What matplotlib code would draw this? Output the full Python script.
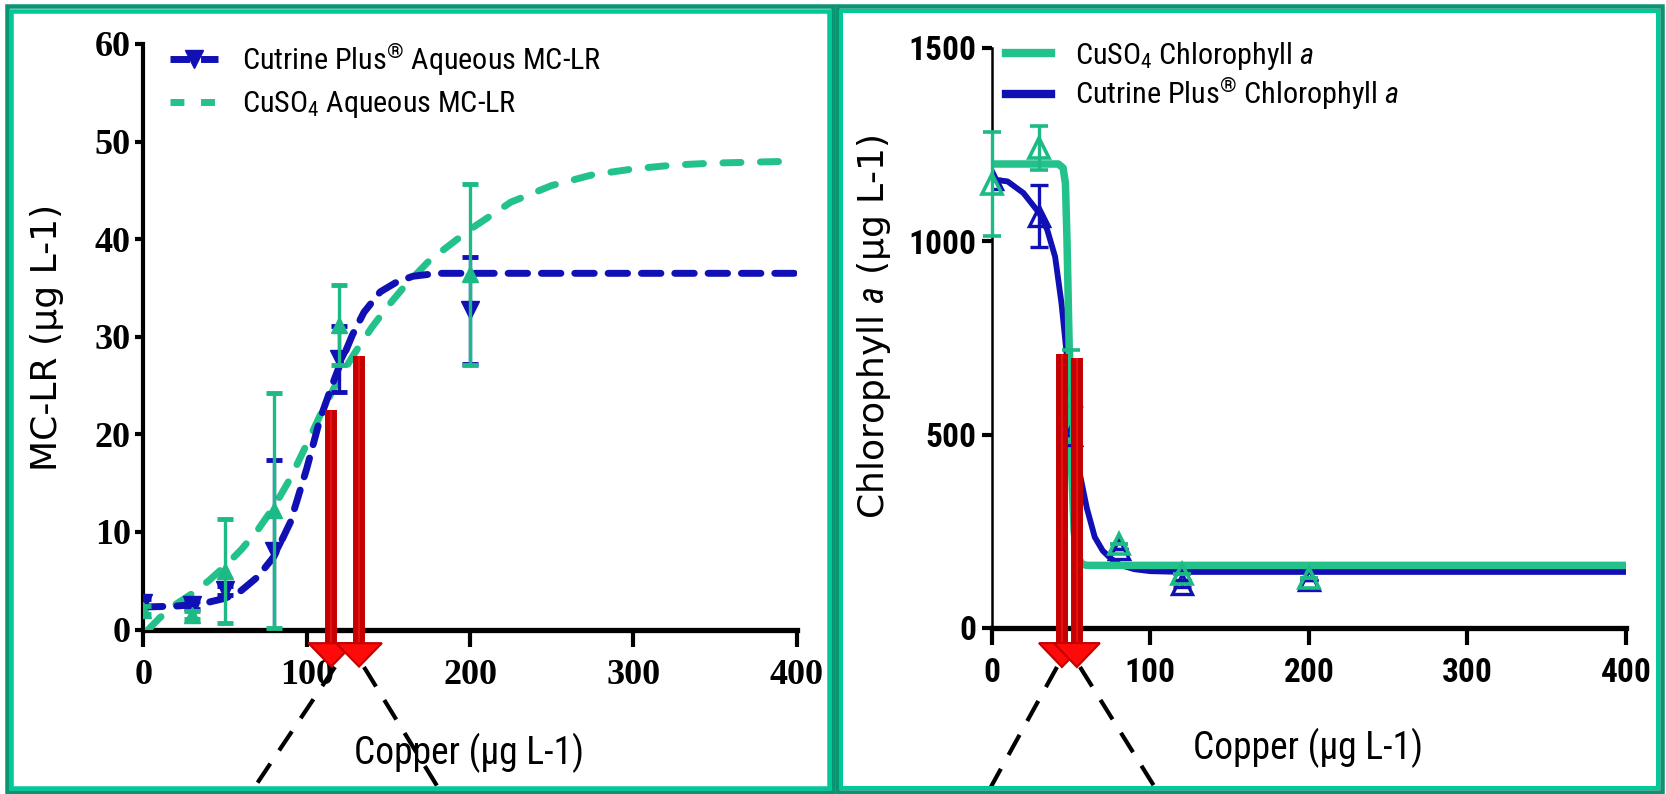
import matplotlib
matplotlib.use('Agg')
import matplotlib.pyplot as plt
from matplotlib.lines import Line2D
from matplotlib.patches import Rectangle
from matplotlib import font_manager as fm


def have(name):
    try:
        fm.findfont(fm.FontProperties(family=name), fallback_to_default=False)
        return True
    except Exception:
        return False


NARROW, NSCALE = 'DejaVu Sans', 0.80
for cand, scale in [('Liberation Sans Narrow', 1.0), ('DejaVu Sans Condensed', 0.92),
                    ('Roboto Condensed', 1.0), ('Open Sans Condensed', 1.0),
                    ('Noto Sans Condensed', 1.0), ('Roboto', 0.88), ('Lato', 0.88)]:
    if have(cand):
        NARROW, NSCALE = cand, scale
        break
SERIF = 'Liberation Serif' if have('Liberation Serif') else 'DejaVu Serif'
plt.rcParams['mathtext.fontset'] = 'custom'
plt.rcParams['mathtext.rm'] = NARROW
plt.rcParams['mathtext.it'] = NARROW + ':italic'
plt.rcParams['mathtext.bf'] = NARROW + ':bold'

# ---------------- data ----------------
copper_doses = [0, 30, 50, 80, 120, 200]

# Left panel: aqueous MC-LR (ug/L)
cutrine_mclr = [2.7, 2.5, 4.0, 8.0, 27.7, 32.7]
cutrine_mclr_err = [0.4, 0.4, 0.5, 9.4, 3.4, 5.5]
cuso4_mclr = [2.0, 1.5, 6.0, 12.2, 31.2, 36.4]
cuso4_mclr_err = [0.4, 0.4, 5.3, 12.0, 4.1, 9.3]

cutrine_mclr_fit_x = [0, 20, 35, 50, 60, 70, 80, 90, 100, 108, 115, 120, 128, 135, 145, 155, 165, 180, 200, 400]
cutrine_mclr_fit_y = [2.3, 2.4, 2.6, 3.2, 4.0, 5.4, 7.5, 11.0, 16.5, 21.5, 24.8, 27.0, 30.2, 32.5, 34.6, 35.6, 36.2, 36.5, 36.5, 36.5]
cuso4_mclr_fit_x = [3, 10, 20, 30, 40, 50, 60, 70, 80, 90, 100, 110, 120, 130, 140, 150, 160, 175, 200, 225, 250, 275, 300, 325, 350, 400]
cuso4_mclr_fit_y = [0.0, 1.2, 2.6, 3.7, 5.0, 6.5, 8.2, 10.2, 12.6, 15.5, 19.0, 22.6, 25.8, 28.5, 31.0, 33.2, 35.2, 37.8, 41.0, 43.8, 45.5, 46.6, 47.2, 47.6, 47.8, 48.0]

# Right panel: chlorophyll a (ug/L)
cuso4_chla = [1148, 1241, 600, 217, 140, 130]
cuso4_chla_err = [135, 57, 120, 0, 0, 0]
cutrine_chla = [1160, 1065, 500, 205, 115, 125]
cutrine_chla_err = [0, 80, 0, 0, 10, 0]

cuso4_chla_fit_x = [0, 42, 45, 46.5, 47.5, 48.5, 49.5, 50.5, 52, 54, 57, 60, 400]
cuso4_chla_fit_y = [1200, 1200, 1190, 1150, 1000, 800, 600, 400, 250, 185, 165, 162, 162]
cutrine_chla_fit_x = [0, 10, 20, 30, 35, 40, 44, 47, 50, 53, 57, 60, 65, 70, 75, 81, 90, 100, 120, 400]
cutrine_chla_fit_y = [1160, 1155, 1125, 1073, 1030, 960, 840, 720, 560, 450, 370, 310, 235, 200, 180, 163, 152, 147, 145, 145]

# EC50 marker arrows (x position, top value)
mclr_arrow_x = [115, 132]
mclr_arrow_top = [22.5, 28.0]
chla_arrow_x = [44.3, 53.7]
chla_arrow_top = [709, 698]

x_ticks = [0, 100, 200, 300, 400]
mclr_ticks = [0, 10, 20, 30, 40, 50, 60]
chla_ticks = [0, 500, 1000, 1500]

# ---------------- style ----------------
BLUE = '#1010B4'
GREEN = '#1CBA84'
GREEN_LINE = '#22C28A'
RED_DARK = '#C40000'
RED = '#FF0A0A'
W, H = 1666, 794

fig = plt.figure(figsize=(W / 100, H / 100), dpi=100)
fig.patch.set_facecolor('white')


def fx(px):
    return px / W


def fy(py):
    return 1 - py / H


def axes_px(x0, x1, ytop, ybot):
    return fig.add_axes([fx(x0), fy(ybot), fx(x1) - fx(x0), (ybot - ytop) / H])


ax1 = axes_px(143.4, 796.8, 44.0, 629.5)
ax2 = axes_px(991.7, 1626.0, 48.0, 628.0)
for ax in (ax1, ax2):
    ax.set_facecolor('none')
    ax.spines['top'].set_visible(False)
    ax.spines['right'].set_visible(False)

# ---- left panel ----
ax1.plot(cuso4_mclr_fit_x, cuso4_mclr_fit_y, color=GREEN_LINE, lw=5, ls=(0, (2.6, 2.8)),
         dash_capstyle='round', zorder=3)
ax1.plot(cutrine_mclr_fit_x, cutrine_mclr_fit_y, color=BLUE, lw=5, ls=(0, (2.8, 2.0)),
         dash_capstyle='round', zorder=3)
ax1.errorbar(copper_doses, cutrine_mclr, yerr=cutrine_mclr_err, fmt='v', color=BLUE, ms=13,
             elinewidth=2.4, capsize=6, capthick=3.5, zorder=4)
ax1.errorbar(copper_doses, cuso4_mclr, yerr=cuso4_mclr_err, fmt='^', color=GREEN, ms=12,
             elinewidth=2.4, capsize=6, capthick=3.5, zorder=5)
ax1.set_xlim(0, 400)
ax1.set_ylim(0, 60)
ax1.set_xticks(x_ticks)
ax1.set_yticks(mclr_ticks)
ax1.spines['left'].set_linewidth(3)
ax1.spines['bottom'].set_linewidth(3.8)
ax1.tick_params(axis='y', direction='out', length=6, width=3, pad=3)
ax1.tick_params(axis='x', direction='out', length=12, width=3, pad=9)
for lab in ax1.get_xticklabels() + ax1.get_yticklabels():
    lab.set_fontfamily(SERIF)
    lab.set_fontweight('bold')
    lab.set_fontsize(26)
ax1.set_ylabel('MC-LR (μg L-1)', fontsize=26, family='DejaVu Sans')
ax1.yaxis.set_label_coords(-0.121, 0.498)
ax1.set_xlabel('Copper (μg L-1)', fontsize=27 * NSCALE, family=NARROW)
ax1.xaxis.set_label_coords(0.498, -0.177)

# ---- right panel ----
ax2.plot(cutrine_chla_fit_x, cutrine_chla_fit_y, color=BLUE, lw=4.2, zorder=3,
         solid_capstyle='round')
ax2.plot(cuso4_chla_fit_x, cuso4_chla_fit_y, color=GREEN_LINE, lw=5.4, zorder=3.5,
         solid_capstyle='round', solid_joinstyle='round')
ax2.errorbar(copper_doses, cutrine_chla, yerr=cutrine_chla_err, fmt='^', color=BLUE, mfc='none',
             mew=2.4, ms=14, elinewidth=2.4, capsize=6.5, capthick=3.2, zorder=4)
ax2.errorbar(copper_doses, cuso4_chla, yerr=cuso4_chla_err, fmt='^', color=GREEN, mfc='none',
             mew=2.6, ms=14, elinewidth=2.4, capsize=6.5, capthick=3.2, zorder=5, clip_on=False)
ax2.set_xlim(0, 400)
ax2.set_ylim(0, 1500)
ax2.set_xticks(x_ticks)
ax2.set_yticks(chla_ticks)
ax2.spines['left'].set_linewidth(1.8)
ax2.spines['bottom'].set_linewidth(3.8)
ax2.tick_params(axis='y', direction='out', length=7, width=3, pad=4)
ax2.tick_params(axis='x', direction='out', length=12, width=3, pad=9)
for lab in ax2.get_xticklabels() + ax2.get_yticklabels():
    lab.set_fontfamily(NARROW)
    lab.set_fontweight('bold')
    lab.set_fontsize(24 * NSCALE)
ax2.set_ylabel(r'Chlorophyll $\mathit{a}$ (μg L-1)', fontsize=26, family='DejaVu Sans')
ax2.yaxis.set_label_coords(-0.156, 0.519)
ax2.set_xlabel('Copper (μg L-1)', fontsize=27 * NSCALE, family=NARROW)
ax2.xaxis.set_label_coords(0.499, -0.172)


# ---- red arrows ----
def red_arrows(ax, xs, tops, base, tip, half_w):
    for x, top in zip(xs, tops):
        ax.plot([x, x], [top, base], color=RED_DARK, lw=8.6, solid_capstyle='butt',
                clip_on=False, zorder=8)
        ax.plot([x, x], [top, base], color='#E41212', lw=1.6, solid_capstyle='butt',
                clip_on=False, zorder=8.1)
        ax.fill([x - half_w, x + half_w, x], [base, base, tip], facecolor=RED,
                edgecolor=RED_DARK, lw=1.5, clip_on=False, zorder=8.2)


red_arrows(ax1, mclr_arrow_x, mclr_arrow_top, -1.4, -3.8, 14.0)
red_arrows(ax2, chla_arrow_x, chla_arrow_top, -39, -101, 14.5)

# ---- legends ----
LEG_SIZE = 21.7 * NSCALE
h1 = [Line2D([], [], color=BLUE, lw=5, ls=(0, (2.8, 1.6)), marker='v', ms=13),
      Line2D([], [], color=GREEN_LINE, lw=5, ls=(0, (2.0, 2.4)))]
leg1 = ax1.legend(h1, [r'Cutrine Plus$^{®}$ Aqueous MC-LR', r'CuSO$_4$ Aqueous MC-LR'],
                  loc='upper left', bbox_to_anchor=(fx(170), fy(41)), bbox_transform=fig.transFigure,
                  frameon=False, borderpad=0, borderaxespad=0, handlelength=48 / (LEG_SIZE * 1.389),
                  handletextpad=24 / (LEG_SIZE * 1.389), labelspacing=0.38,
                  prop={'family': NARROW, 'size': LEG_SIZE})
h2 = [Line2D([], [], color=GREEN_LINE, lw=6),
      Line2D([], [], color=BLUE, lw=6)]
leg2 = ax2.legend(h2, [r'CuSO$_4$ Chlorophyll $\mathit{a}$', r'Cutrine Plus$^{®}$ Chlorophyll $\mathit{a}$'],
                  loc='upper left', bbox_to_anchor=(fx(1006), fy(40)), bbox_transform=fig.transFigure,
                  frameon=False, borderpad=0, borderaxespad=0, handlelength=45 / (LEG_SIZE * 1.389),
                  handletextpad=24 / (LEG_SIZE * 1.389), labelspacing=0.12,
                  prop={'family': NARROW, 'size': LEG_SIZE})

# ---- dashed zoom lines ----
zoom_lines = [((335, 667), (250, 794)), ((364, 667), (442, 794)),
              ((1057, 667), (987, 794)), ((1080, 667), (1159, 794))]
for (xa, ya), (xb, yb) in zoom_lines:
    fig.add_artist(Line2D([fx(xa), fx(xb)], [fy(ya), fy(yb)], transform=fig.transFigure,
                          color='black', lw=3.0, ls=(0, (5.5, 3.8)), zorder=20))


# ---- panel frames ----
def frame(x0, x1, y0, y1, color, lw_px, z):
    fig.add_artist(Rectangle((fx(x0), fy(y1)), fx(x1) - fx(x0), (y1 - y0) / H, fill=False,
                             edgecolor=color, lw=lw_px * 0.72, transform=fig.transFigure,
                             zorder=z))


frame(6.5, 832.5, 6.0, 792.0, '#0A9472', 4.5, 30)
frame(10.5, 828.5, 11.0, 788.0, '#00C896', 4.5, 31)
frame(837.0, 1662.0, 6.0, 792.0, '#0A9472', 4.5, 30)
frame(840.5, 1658.0, 11.0, 788.0, '#00C896', 4.0, 31)

fig.savefig('out.png', dpi=100, facecolor='white')
